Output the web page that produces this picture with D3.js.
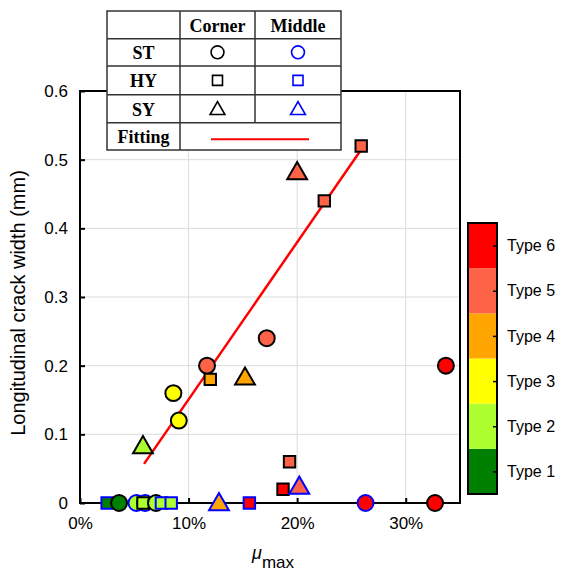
<!DOCTYPE html>
<html><head><meta charset="utf-8">
<script src="https://cdn.jsdelivr.net/npm/d3@7"></script>
<style>body{margin:0;background:#fff}svg{display:block}</style>
</head><body>
<script>
// ---- data ----
const typeLabels = ["Type 1","Type 2","Type 3","Type 4","Type 5","Type 6"];
const typeColors = ["#008000","#ADFF2F","#FFFF00","#FFA500","#FF6347","#FF0000"];
const xTicks = [0, 10, 20, 30];
const yTicks = [0, 0.1, 0.2, 0.3, 0.4, 0.5, 0.6];
// mu_max (%), crack width (mm), shape, position, type (1-6)
const pxVals   = [2.5, 3.6, 5.2, 6.0, 5.8, 7.0, 7.5, 8.4, 12.8, 15.6, 26.3, 32.7,
                  25.9, 20.0, 22.5, 17.2, 11.7, 12.0, 15.2, 8.6, 9.1, 5.8, 19.3, 18.7, 20.2, 33.7];
const pyVals   = [0, 0, 0, 0, 0, 0, 0, 0, 0, 0, 0, 0,
                  0.52, 0.482, 0.44, 0.24, 0.20, 0.18, 0.183, 0.16, 0.12, 0.083, 0.06, 0.02, 0.024, 0.20];
const pShape   = ["sq","ci","ci","ci","sq","ci","sq","sq","tr","sq","ci","ci",
                  "sq","tr","sq","ci","ci","sq","tr","ci","ci","tr","sq","sq","tr","ci"];
const pPos     = ["M","C","M","M","C","C","M","M","M","M","M","C",
                  "C","C","C","C","C","C","C","C","C","C","C","C","M","C"];
const pType    = [1,1,2,2,2,2,2,2,4,6,6,6,
                  5,5,5,5,5,4,4,3,3,2,5,6,5,6];
const fitX = [5.9, 26.0];
const fitY = [0.057, 0.517];
const legendRows = ["ST","HY","SY"];
const legendCols = ["Corner","Middle"];

// ---- layout ----
const W = 568, H = 571;
const svg = d3.select("body").append("svg").attr("width", W).attr("height", H);
const L = 80, R = 460, T = 91, B = 503;
const x = d3.scaleLinear().domain([0, 35]).range([L, R]);
const y = d3.scaleLinear().domain([0, 0.6]).range([B, T]);
const font = "Arial, 'Liberation Sans', sans-serif";

// grid
svg.append("g").selectAll("line").data(xTicks.slice(1)).join("line")
  .attr("x1", d => x(d)).attr("x2", d => x(d)).attr("y1", T).attr("y2", B)
  .attr("stroke", "#dcdcdc").attr("stroke-width", 1);
svg.append("g").selectAll("line").data(yTicks.slice(1, -1)).join("line")
  .attr("x1", L).attr("x2", R).attr("y1", d => y(d)).attr("y2", d => y(d))
  .attr("stroke", "#dcdcdc").attr("stroke-width", 1);

// axes
const xAxis = svg.append("g").attr("transform", `translate(0,${B})`)
  .call(d3.axisBottom(x).tickValues(xTicks).tickFormat(d => d + "%").tickSizeInner(-5).tickSizeOuter(0).tickPadding(14));
const yAxis = svg.append("g").attr("transform", `translate(${L},0)`)
  .call(d3.axisLeft(y).tickValues(yTicks).tickFormat(d => d === 0 ? "0" : d3.format(".1f")(d)).tickSizeInner(-5).tickSizeOuter(0).tickPadding(12));
[xAxis, yAxis].forEach(a => {
  a.select(".domain").remove();
  a.selectAll("line").attr("stroke", "#000").attr("stroke-width", 2);
  a.selectAll("text").attr("font-family", font).attr("font-size", 17).attr("fill", "#000");
});
// box
svg.append("rect").attr("x", L).attr("y", T).attr("width", R - L).attr("height", B - T)
  .attr("fill", "none").attr("stroke", "#000").attr("stroke-width", 2);

// fitting line
svg.append("line").attr("x1", x(fitX[0])).attr("y1", y(fitY[0])).attr("x2", x(fitX[1])).attr("y2", y(fitY[1]))
  .attr("stroke", "#FF0000").attr("stroke-width", 2.5);

// points
const symType = {ci: d3.symbolCircle, sq: d3.symbolSquare, tr: d3.symbolTriangle};
const symSize = {ci: 200, sq: 130, tr: 170};
const pts = pxVals.map((v, i) => ({x: v, y: pyVals[i], s: pShape[i], p: pPos[i], t: pType[i]}));
svg.append("g").selectAll("path").data(pts).join("path")
  .attr("transform", d => `translate(${x(d.x)},${y(d.y) + (d.s === "tr" ? 1.5 : 0)})`)
  .attr("d", d => d3.symbol(symType[d.s], symSize[d.s])())
  .attr("fill", d => typeColors[d.t - 1])
  .attr("stroke", d => d.p === "C" ? "#000" : "#0000FF")
  .attr("stroke-width", 2);

// axis titles
svg.append("text").attr("transform", `translate(25,${303}) rotate(-90)`)
  .attr("text-anchor", "middle").attr("font-family", font).attr("font-size", 20)
  .text("Longitudinal crack width (mm)");
const xt = svg.append("text").attr("x", 273).attr("y", 561).attr("text-anchor", "middle")
  .attr("font-family", font).attr("font-size", 18);
xt.append("tspan").attr("font-style", "italic").attr("dy", -2).text("μ");
xt.append("tspan").attr("font-size", 17).attr("dy", 9).text("max");

// colorbar
const cbX = 468, cbW = 29, cbT = 223, cbB = 494;
const cy = d3.scaleLinear().domain([0, 6]).range([cbB, cbT]);
const cb = svg.append("g");
cb.selectAll("rect").data(typeColors).join("rect")
  .attr("x", cbX).attr("width", cbW)
  .attr("y", (d, i) => cy(i + 1)).attr("height", (d, i) => cy(i) - cy(i + 1))
  .attr("fill", d => d);
cb.append("rect").attr("x", cbX).attr("y", cbT).attr("width", cbW).attr("height", cbB - cbT)
  .attr("fill", "none").attr("stroke", "#000").attr("stroke-width", 2);
const cAxis = svg.append("g").attr("transform", `translate(${cbX + cbW},0)`)
  .call(d3.axisRight(d3.scaleLinear().domain([0, 6]).range([cbB, cbT]))
    .tickValues(typeLabels.map((d, i) => i + 0.5)).tickFormat((d, i) => typeLabels[i])
    .tickSizeInner(-4).tickSizeOuter(0).tickPadding(10));
cAxis.select(".domain").remove();
cAxis.selectAll("line").attr("stroke", "#000").attr("stroke-width", 1.5);
cAxis.selectAll("text").attr("font-family", font).attr("font-size", 16).attr("fill", "#000");

// legend table
const tL = 107, tR = 341, tT = 11, tB = 150;
const colX = [tL, 180, 255, tR];
const rowY = [tT, 38.7, 66, 94.7, 122.7, tB];
const lg = svg.append("g");
lg.append("rect").attr("x", tL).attr("y", tT).attr("width", tR - tL).attr("height", tB - tT)
  .attr("fill", "#fff").attr("stroke", "#333").attr("stroke-width", 1.5);
rowY.slice(1, -1).forEach(v => lg.append("line").attr("x1", tL).attr("x2", tR).attr("y1", v).attr("y2", v)
  .attr("stroke", "#333").attr("stroke-width", 1.5));
lg.append("line").attr("x1", colX[1]).attr("x2", colX[1]).attr("y1", tT).attr("y2", tB).attr("stroke", "#333").attr("stroke-width", 1.5);
lg.append("line").attr("x1", colX[2]).attr("x2", colX[2]).attr("y1", tT).attr("y2", rowY[4]).attr("stroke", "#333").attr("stroke-width", 1.5);
const serif = "'Times New Roman', 'Liberation Serif', serif";
const cellText = (tx, ty, s) => lg.append("text").attr("x", tx).attr("y", ty).attr("text-anchor", "middle")
  .attr("dominant-baseline", "central").attr("font-family", serif).attr("font-weight", "bold")
  .attr("font-size", 18).attr("fill", "#000").text(s);
legendCols.forEach((c, i) => cellText((colX[i + 1] + colX[i + 2]) / 2, (rowY[0] + rowY[1]) / 2 + 1, c));
legendRows.concat(["Fitting"]).forEach((r, i) => cellText((colX[0] + colX[1]) / 2, (rowY[i + 1] + rowY[i + 2]) / 2 + 1, r));
const legShapes = ["ci", "sq", "tr"];
const legSize = {ci: 130, sq: 100, tr: 95};
legShapes.forEach((s, i) => {
  ["#000", "#0000FF"].forEach((col, j) => {
    lg.append("path")
      .attr("transform", `translate(${(colX[j + 1] + colX[j + 2]) / 2},${(rowY[i + 1] + rowY[i + 2]) / 2 + (s === "tr" ? 1.5 : 0)})`)
      .attr("d", d3.symbol(symType[s], legSize[s])())
      .attr("fill", "none").attr("stroke", col).attr("stroke-width", 1.6);
  });
});
lg.append("line").attr("x1", 211).attr("x2", 309).attr("y1", 139.3).attr("y2", 139.3)
  .attr("stroke", "#FF0000").attr("stroke-width", 2);
</script>
</body></html>
